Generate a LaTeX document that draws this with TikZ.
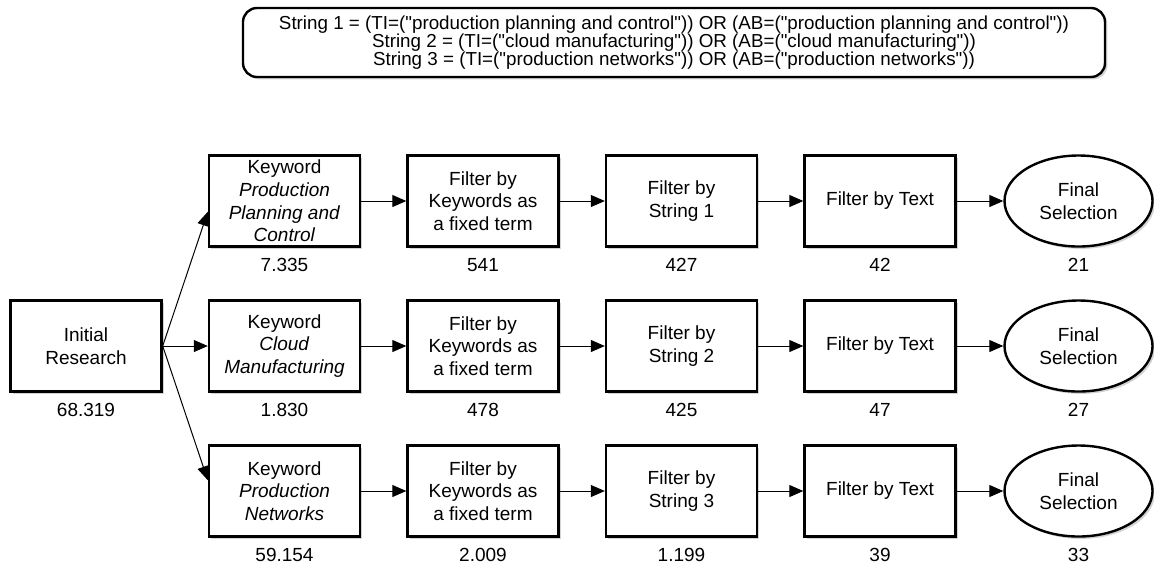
\documentclass[tikz,border=0pt]{standalone}
\usepackage{fontspec}
\setmainfont{Liberation Sans}
\usepackage{tikz}
\usetikzlibrary{arrows.meta,positioning,shapes,shadows}
\tikzstyle{every stage} = []
\tikzstyle{link} = [>={Triangle[length=7pt,width=6pt]}, ->, draw, line width=0.5pt]
\tikzstyle{stage} = [rectangle, draw, black, line width=1.2pt, fill=white,
minimum width=75.5pt, minimum height=45.5pt, inner ysep=1pt, align=center,
font=\fontsize{9.5}{11.3}\selectfont,
drop shadow={opacity=0.35, shadow xshift=1.2pt, shadow yshift=-1.2pt},
every stage]
\tikzstyle{final} = [stage, ellipse, minimum width=74pt, minimum height=45.5pt]
\tikzstyle{count} = [font=\fontsize{9.5}{11.3}\selectfont, inner sep=2pt]
\tikzstyle{query} = [stage, rounded corners=7pt, minimum width=431pt,
minimum height=34.5pt, font=\fontsize{9.4}{9.1}\selectfont]
\newcommand{\qt}{\textquotedbl}

\begin{document}
\begin{tikzpicture}[x=0.5pt, y=-0.5pt, node distance=99.25pt]
	\useasboundingbox (0,0) rectangle (1154,569);

	\node[query] (strings) at (674,42.5) {String 1 = (TI=(\qt production planning and control\qt)) OR (AB=(\qt production planning and control\qt))\\
		String 2 = (TI=(\qt cloud manufacturing\qt)) OR (AB=(\qt cloud manufacturing\qt))\\
		String 3 = (TI=(\qt production networks\qt)) OR (AB=(\qt production networks\qt))};

	\node[stage] (init) at (86,346) {Initial\\Research};
	\node[count] (n0) [below=3pt of init] {68.319};

	% keyword boxes
	\node[stage] (kw2) [right of=init] {Keyword\\\textit{Cloud}\\\textit{Manufacturing}};
	\node[stage] (kw1) [above of=kw2, node distance=72.5pt] {Keyword\\\textit{Production}\\\textit{Planning and}\\\textit{Control}};
	\node[stage] (kw3) [below of=kw2, node distance=72.5pt] {Keyword\\\textit{Production}\\\textit{Networks}};

	% row 1
	\node[stage] (fix1) [right of=kw1] {Filter by\\Keywords as\\a fixed term};
	\node[stage] (str1) [right of=fix1] {Filter by\\String 1};
	\node[stage] (txt1) [right of=str1] {Filter by Text};
	\node[final] (sel1) [right of=txt1] {Final\\Selection};

	% row 2
	\node[stage] (fix2) [right of=kw2] {Filter by\\Keywords as\\a fixed term};
	\node[stage] (str2) [right of=fix2] {Filter by\\String 2};
	\node[stage] (txt2) [right of=str2] {Filter by Text};
	\node[final] (sel2) [right of=txt2] {Final\\Selection};

	% row 3
	\node[stage] (fix3) [right of=kw3] {Filter by\\Keywords as\\a fixed term};
	\node[stage] (str3) [right of=fix3] {Filter by\\String 3};
	\node[stage] (txt3) [right of=str3] {Filter by Text};
	\node[final] (sel3) [right of=txt3] {Final\\Selection};

	% counts
	\node[count] (n11) [below=3pt of kw1] {7.335};
	\node[count] (n12) [below=3pt of fix1] {541};
	\node[count] (n13) [below=3pt of str1] {427};
	\node[count] (n14) [below=3pt of txt1] {42};
	\node[count] (n15) at (n14 -| sel1) {21};
	\node[count] (n21) [below=3pt of kw2] {1.830};
	\node[count] (n22) [below=3pt of fix2] {478};
	\node[count] (n23) [below=3pt of str2] {425};
	\node[count] (n24) [below=3pt of txt2] {47};
	\node[count] (n25) at (n24 -| sel2) {27};
	\node[count] (n31) [below=3pt of kw3] {59.154};
	\node[count] (n32) [below=3pt of fix3] {2.009};
	\node[count] (n33) [below=3pt of str3] {1.199};
	\node[count] (n34) [below=3pt of txt3] {39};
	\node[count] (n35) at (n34 -| sel3) {33};

	\draw[link] (init.east) -- (kw1.188);
	\draw[link] (init.east) -- (kw2.west);
	\draw[link] (init.east) -- (kw3.172);
	\foreach \r in {1,2,3} {
		\draw[link] (kw\r) -- (fix\r);
		\draw[link] (fix\r) -- (str\r);
		\draw[link] (str\r) -- (txt\r);
		\draw[link] (txt\r) -- (sel\r);
	}
\end{tikzpicture}
\end{document}
